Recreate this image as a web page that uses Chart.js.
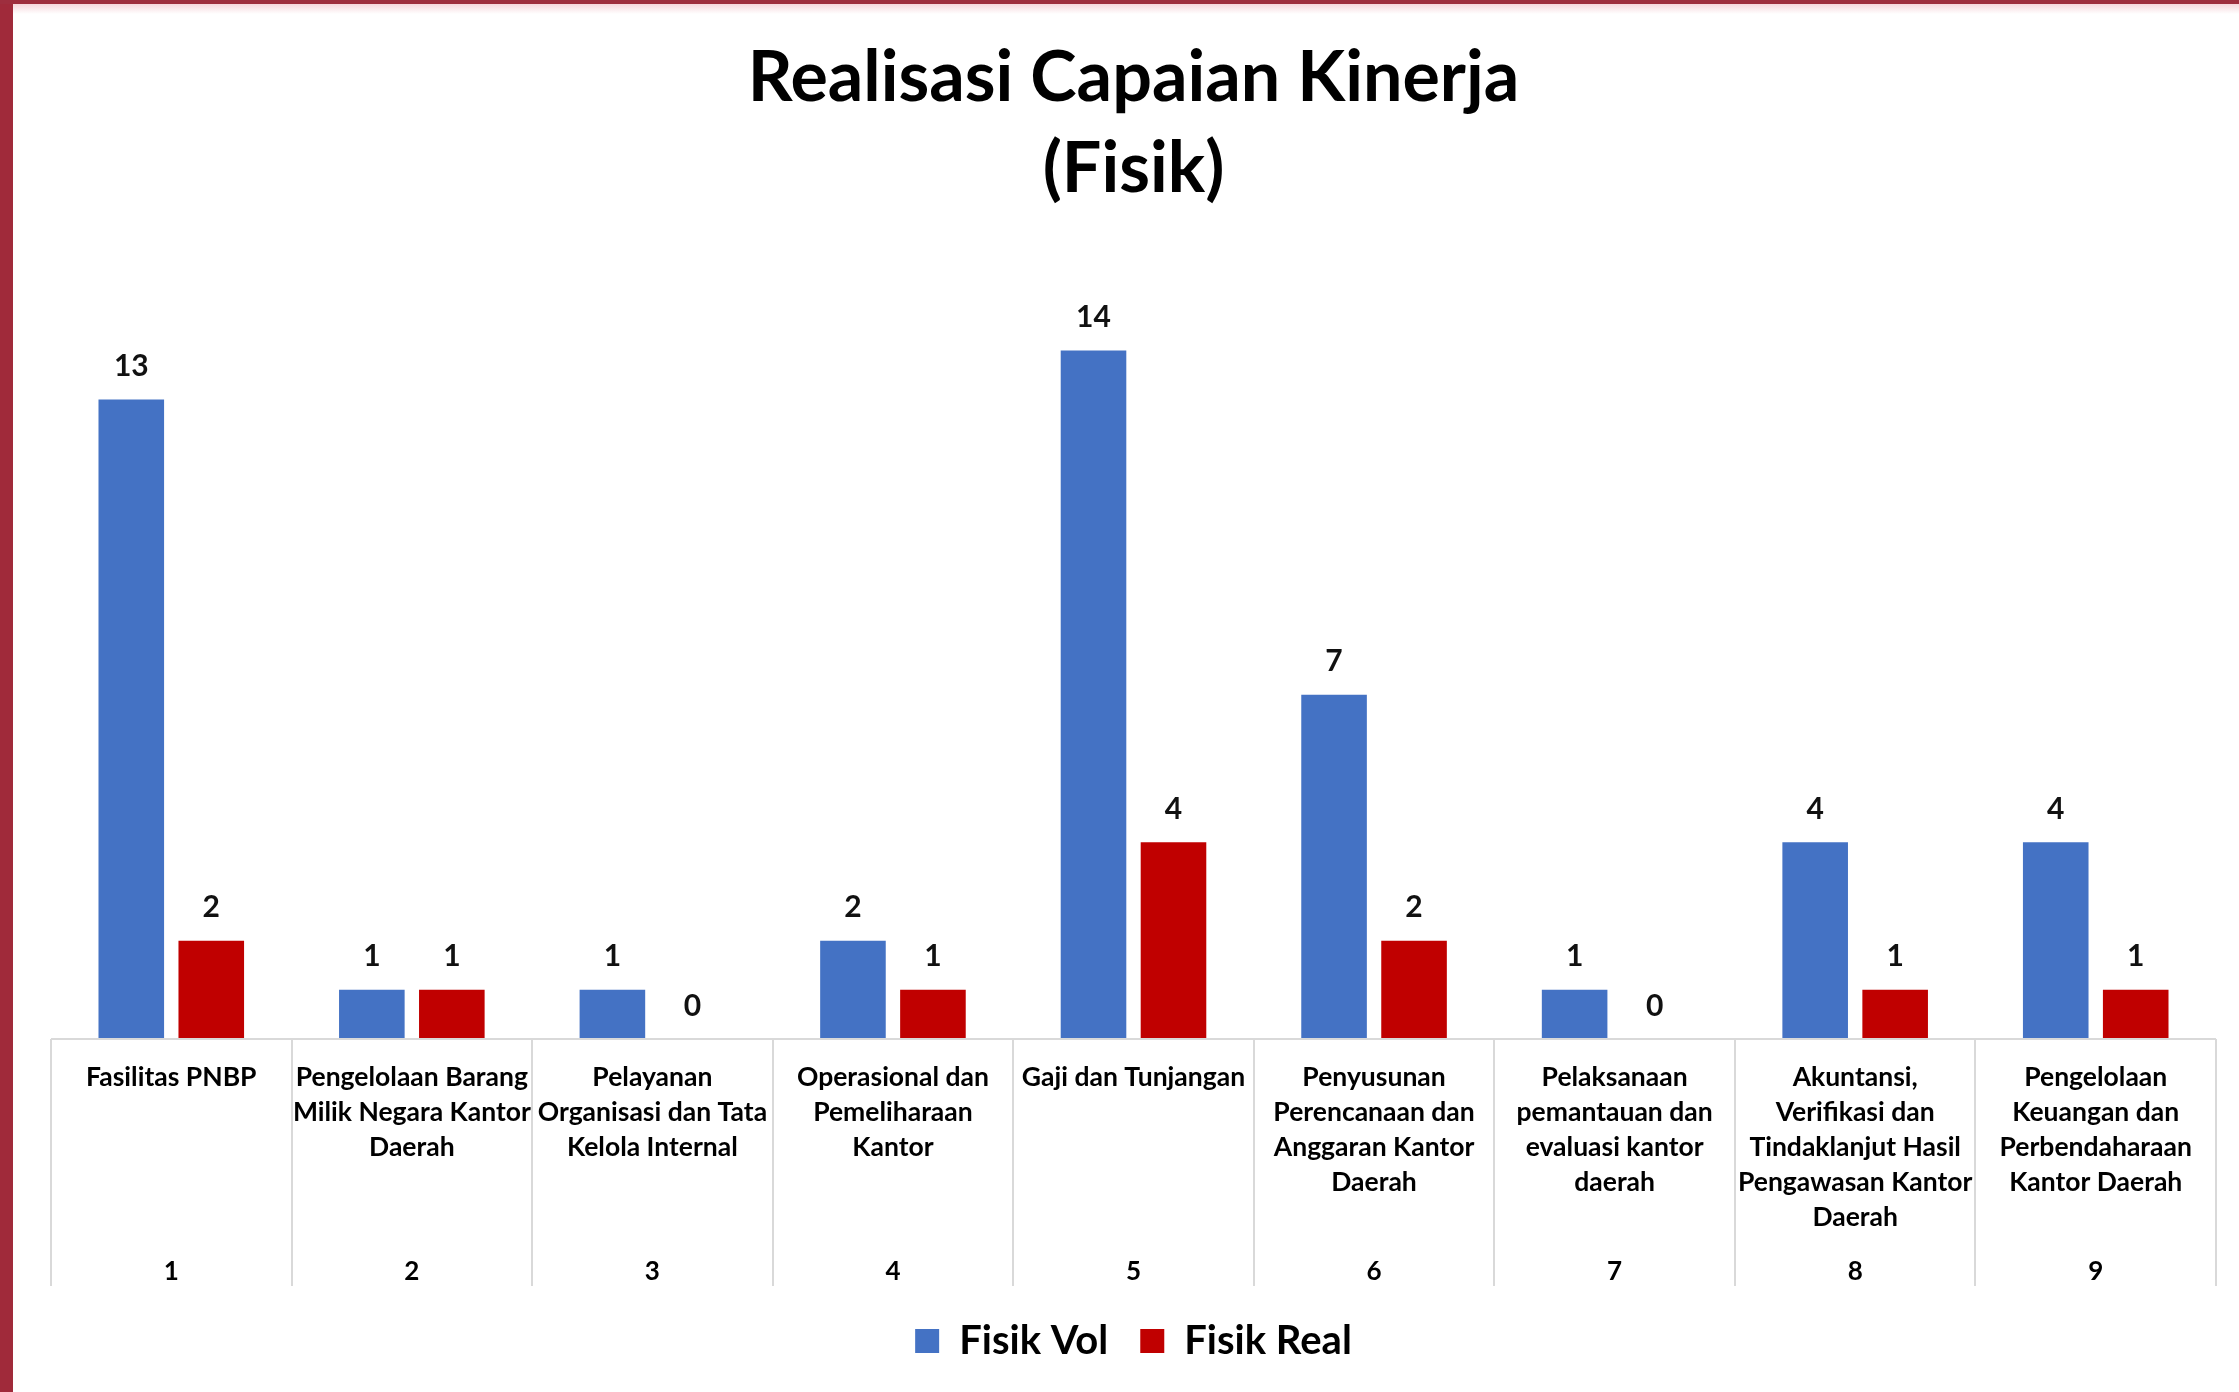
<!DOCTYPE html>
<html>
<head>
<meta charset="utf-8">
<script src="https://cdn.jsdelivr.net/npm/chart.js@4.4.1/dist/chart.umd.min.js"></script>
<style>
  html, body { margin: 0; padding: 0; background: #ffffff; width: 2239px; height: 1392px; overflow: hidden; }
  #leftbar { position: absolute; left: 0; top: 0; width: 13px; height: 1392px; background: #A02A3A; }
  #topbar { position: absolute; left: 0; top: 0; width: 2239px; height: 4px; background: #9E2E3E; }
  #topglow { position: absolute; left: 13px; top: 4px; width: 2226px; height: 10px; background: linear-gradient(#f6d6dc, #ffffff); }
  #wrap { position: absolute; left: 26px; top: 0; width: 2213px; height: 1392px; }
</style>
</head>
<body>
<div id="topglow"></div>
<div id="leftbar"></div>
<div id="topbar"></div>
<div id="wrap"><canvas id="c" width="2213" height="1392"></canvas></div>
<script>
// ---- data ----
const titleLines = ["Realisasi Capaian Kinerja", "(Fisik)"];
const categoryLabels = [
  ["Fasilitas PNBP"],
  ["Pengelolaan Barang", "Milik Negara Kantor", "Daerah"],
  ["Pelayanan", "Organisasi dan Tata", "Kelola Internal"],
  ["Operasional dan", "Pemeliharaan", "Kantor"],
  ["Gaji dan Tunjangan"],
  ["Penyusunan", "Perencanaan dan", "Anggaran Kantor", "Daerah"],
  ["Pelaksanaan", "pemantauan dan", "evaluasi kantor", "daerah"],
  ["Akuntansi,", "Verifikasi dan", "Tindaklanjut Hasil", "Pengawasan Kantor", "Daerah"],
  ["Pengelolaan", "Keuangan dan", "Perbendaharaan", "Kantor Daerah"]
];
const categoryNumbers = ["1", "2", "3", "4", "5", "6", "7", "8", "9"];
const fisikVol = [13, 1, 1, 2, 14, 7, 1, 4, 4];
const fisikReal = [2, 1, 0, 1, 4, 2, 0, 1, 1];
const seriesNames = ["Fisik Vol", "Fisik Real"];
// ---------------

const FONT = "Lato, 'Open Sans', 'DejaVu Sans', sans-serif";

const valueLabels = {
  id: 'valueLabels',
  afterDatasetsDraw(chart) {
    const ctx = chart.ctx;
    ctx.save();
    ctx.font = "bold 30px " + FONT;
    ctx.fillStyle = "#111111";
    ctx.textAlign = "center";
    ctx.textBaseline = "middle";
    chart.data.datasets.forEach((ds, di) => {
      const meta = chart.getDatasetMeta(di);
      meta.data.forEach((bar, i) => {
        ctx.fillText(String(ds.data[i]), bar.x, bar.y - 33);
      });
    });
    ctx.restore();
  }
};

const separators = {
  id: 'separators',
  afterDraw(chart) {
    const xs = chart.scales.x, x2 = chart.scales.x2;
    const ctx = chart.ctx;
    const n = categoryNumbers.length;
    ctx.save();
    ctx.strokeStyle = "#d9d9d9";
    ctx.lineWidth = 2;
    for (let i = 0; i <= n; i++) {
      const x = Math.round(xs.left + i * xs.width / n);
      ctx.beginPath();
      ctx.moveTo(x, xs.top);
      ctx.lineTo(x, x2.bottom - 3);
      ctx.stroke();
    }
    ctx.beginPath();
    ctx.moveTo(xs.left, xs.top);
    ctx.lineTo(xs.right, xs.top);
    ctx.stroke();
    ctx.restore();
  }
};

function build() {
  new Chart(document.getElementById('c'), {
    type: 'bar',
    data: {
      labels: categoryLabels,
      datasets: [
        { label: seriesNames[0], data: fisikVol, backgroundColor: '#4472C4', categoryPercentage: 0.665, barPercentage: 0.82 },
        { label: seriesNames[1], data: fisikReal, backgroundColor: '#C00000', categoryPercentage: 0.665, barPercentage: 0.82 }
      ]
    },
    options: {
      responsive: false,
      animation: false,
      layout: { padding: { left: 25, right: 23, top: 0, bottom: 21 } },
      plugins: {
        title: {
          display: true,
          text: titleLines,
          color: '#000000',
          font: { family: FONT, size: 70, weight: 'bold', lineHeight: 1.3 },
          padding: { top: 33, bottom: 37 }
        },
        legend: {
          position: 'bottom',
          labels: {
            color: '#000000',
            font: { family: FONT, size: 40, weight: 'bold' },
            boxWidth: 24,
            boxHeight: 24,
            padding: 32
          }
        },
        tooltip: { enabled: false }
      },
      scales: {
        y: { display: false, min: 0, max: 16 },
        x: {
          position: 'bottom',
          weight: 0,
          offset: true,
          grid: { display: false },
          border: { display: false },
          ticks: {
            color: '#000000',
            font: { family: FONT, size: 26.5, weight: 'bold', lineHeight: 1.32 },
            padding: 13,
            maxRotation: 0,
            minRotation: 0,
            autoSkip: false
          },
          afterFit(scale) { scale.height = 207; }
        },
        x2: {
          type: 'category',
          labels: categoryNumbers,
          position: 'bottom',
          weight: 1,
          offset: true,
          grid: { display: false },
          border: { display: false },
          ticks: {
            color: '#000000',
            font: { family: FONT, size: 26, weight: 'bold' },
            padding: 2,
            maxRotation: 0,
            autoSkip: false
          },
          afterFit(scale) { scale.height = 43; }
        }
      }
    },
    plugins: [valueLabels, separators]
  });
}

if (document.fonts && document.fonts.load) {
  Promise.all([
    document.fonts.load("bold 30px Lato"),
    document.fonts.load("30px Lato")
  ]).then(build, build);
} else {
  build();
}
</script>
</body>
</html>
